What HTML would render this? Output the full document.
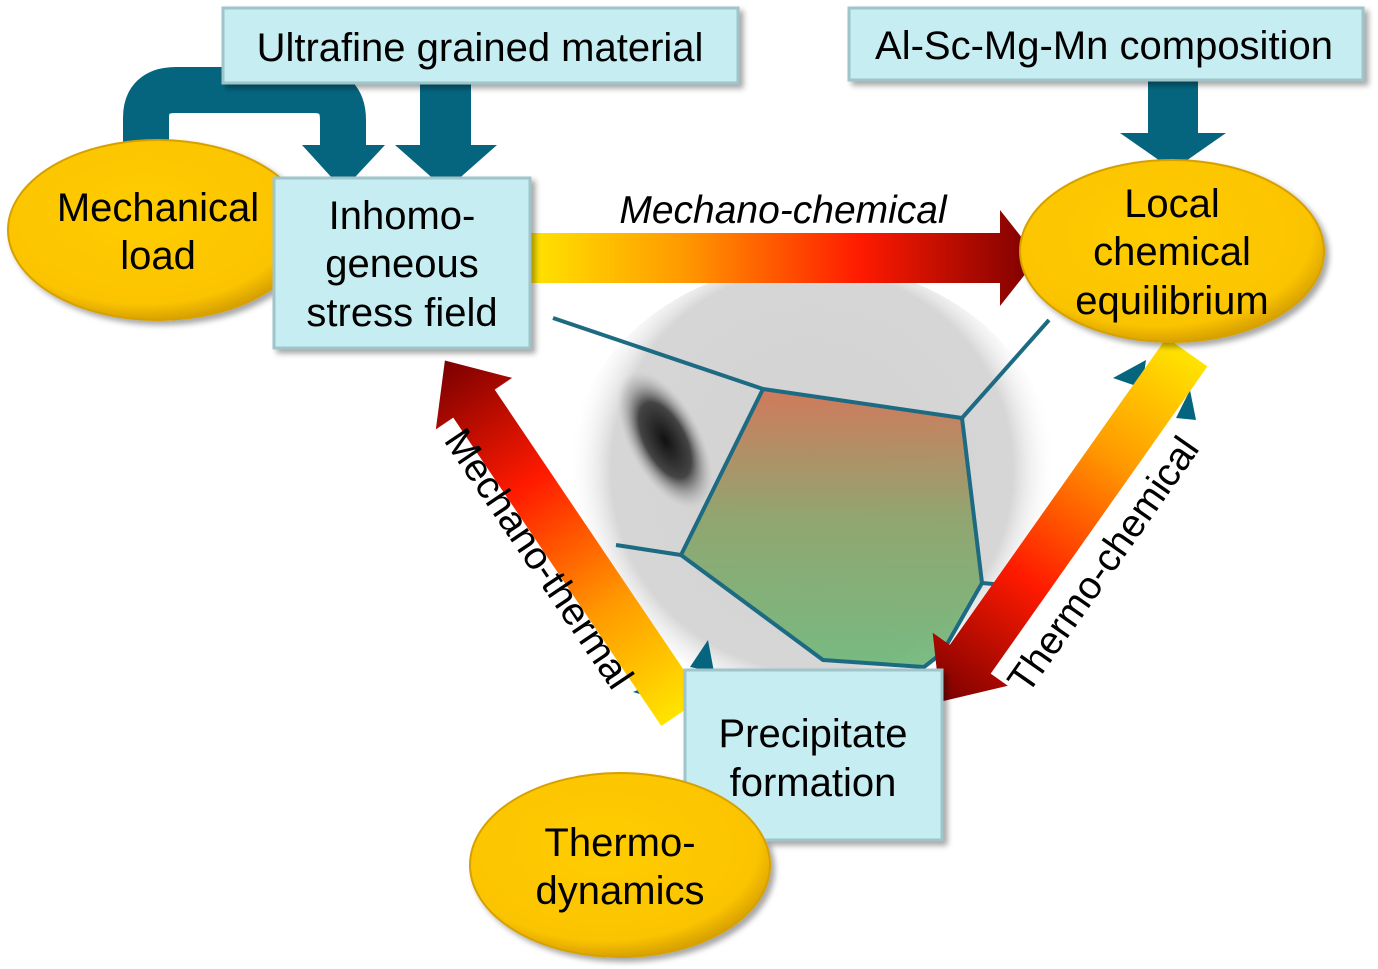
<!DOCTYPE html>
<html><head><meta charset="utf-8"><style>
html,body{margin:0;padding:0;background:#fff;}
svg{display:block;}
text{font-family:"Liberation Sans",sans-serif;fill:#000;}
</style></head><body>
<svg width="1378" height="969" viewBox="0 0 1378 969" xmlns="http://www.w3.org/2000/svg">
<defs>
<radialGradient id="tem" cx="812" cy="470" r="245" gradientUnits="userSpaceOnUse">
<stop offset="0" stop-color="#d2d2d2"/><stop offset="0.82" stop-color="#d6d6d6"/><stop offset="1" stop-color="#fff" stop-opacity="0"/>
</radialGradient>
<radialGradient id="dark" cx="0.5" cy="0.5" r="0.5">
<stop offset="0" stop-color="#111"/><stop offset="0.55" stop-color="#444"/><stop offset="1" stop-color="#aaa" stop-opacity="0"/>
</radialGradient>
<linearGradient id="grain" x1="0" y1="390" x2="0" y2="670" gradientUnits="userSpaceOnUse">
<stop offset="0" stop-color="#d0704f"/><stop offset="0.45" stop-color="#8aa065"/><stop offset="1" stop-color="#6cb878"/>
</linearGradient>
<linearGradient id="heat" x1="0" y1="0" x2="1" y2="0">
<stop offset="0" stop-color="#ffe400"/><stop offset="0.3" stop-color="#ff9a00"/><stop offset="0.65" stop-color="#ff1a00"/><stop offset="1" stop-color="#7a0000"/>
</linearGradient>
<radialGradient id="gold" cx="0.45" cy="0.4" r="0.6">
<stop offset="0" stop-color="#ffcc00"/><stop offset="0.85" stop-color="#fbc400"/><stop offset="1" stop-color="#d9a200"/>
</radialGradient>
<filter id="sh" x="-20%" y="-20%" width="140%" height="140%">
<feDropShadow dx="4" dy="4" stdDeviation="3" flood-color="#000" flood-opacity="0.35"/>
</filter>
</defs>

<!-- TEM image -->
<ellipse cx="812" cy="478" rx="245" ry="215" fill="url(#tem)"/>
<ellipse cx="665" cy="440" rx="75" ry="36" transform="rotate(62 665 440)" fill="url(#dark)"/>
<polygon points="763,389 962,418 982,583 942,653 924,667 823,660 681,555" fill="url(#grain)" opacity="0.9"/>
<g stroke="#1d6b82" stroke-width="4" fill="none" stroke-linejoin="round">
<polygon points="763,389 962,418 982,583 942,653 924,667 823,660 681,555"/>
<line x1="553" y1="318" x2="763" y2="389"/>
<line x1="962" y1="418" x2="1049" y2="320"/>
<line x1="681" y1="555" x2="616" y2="545"/>
<line x1="982" y1="583" x2="1005" y2="585"/>
</g>

<!-- teal arrows -->
<path d="M146,160 L146,118 Q146,90 176,90 L313,90 Q343,90 343,120 L343,150" fill="none" stroke="#05657f" stroke-width="46"/>
<polygon points="302,145 385,145 343,190" fill="#05657f"/>
<rect x="420" y="80" width="51" height="70" fill="#05657f"/>
<polygon points="395,145 497,145 446,190" fill="#05657f"/>
<rect x="1148" y="78" width="50" height="60" fill="#05657f"/>
<polygon points="1120,133 1226,133 1173,170" fill="#05657f"/>
<polygon points="690,667 708,640 714,672" fill="#05657f"/>
<polygon points="633,692 662,680 668,702" fill="#05657f"/>
<polygon points="1113,378 1146,360 1142,388" fill="#05657f"/>
<polygon points="1176,418 1190,390 1196,420" fill="#05657f"/>

<!-- heat arrows -->
<g transform="translate(530 258)">
<polygon points="0,-25 470,-25 470,-48 508,0 470,48 470,25 0,25" fill="url(#heat)"/>
</g>
<g transform="translate(682 712) rotate(236)">
<polygon points="0,-25 372,-25 372,-46 424,0 372,46 372,25 0,25" fill="url(#heat)"/>
</g>
<g transform="translate(1187 352) rotate(125.2)">
<polygon points="0,-25 376,-25 376,-46 428,0 376,46 376,25 0,25" fill="url(#heat)"/>
</g>

<text x="783" y="223" font-size="39" font-style="italic" text-anchor="middle">Mechano-chemical</text>
<text x="0" y="0" font-size="39" text-anchor="middle" transform="translate(528 566) rotate(56)">Mechano-thermal</text>
<text x="0" y="0" font-size="39" text-anchor="middle" transform="translate(1114 572) rotate(-55)">Thermo-chemical</text>

<g filter="url(#sh)">
<rect x="223" y="8" width="515" height="75" fill="#c6edf1" stroke="#9fc5ca" stroke-width="3"/>
<rect x="849" y="8" width="514" height="72" fill="#c6edf1" stroke="#9fc5ca" stroke-width="3"/>
</g>
<text x="480" y="61" font-size="40" text-anchor="middle">Ultrafine grained material</text>
<text x="1104" y="59" font-size="40" text-anchor="middle">Al-Sc-Mg-Mn composition</text>

<g filter="url(#sh)">
<ellipse cx="158" cy="230" rx="150" ry="90" fill="url(#gold)" stroke="#d6a000" stroke-width="2"/>
<rect x="274" y="178" width="256" height="170" fill="#c6edf1" stroke="#9fc5ca" stroke-width="3"/>
<ellipse cx="1172" cy="251" rx="152" ry="91" fill="url(#gold)" stroke="#d6a000" stroke-width="2"/>
<rect x="685" y="670" width="257" height="170" fill="#c6edf1" stroke="#9fc5ca" stroke-width="3"/>
<ellipse cx="620" cy="865" rx="150" ry="92" fill="url(#gold)" stroke="#d6a000" stroke-width="2"/>
</g>
<g font-size="40" text-anchor="middle">
<text x="158" y="221">Mechanical</text>
<text x="158" y="269">load</text>
<text x="402" y="229">Inhomo-</text>
<text x="402" y="277">geneous</text>
<text x="402" y="326">stress field</text>
<text x="1172" y="217">Local</text>
<text x="1172" y="265">chemical</text>
<text x="1172" y="314">equilibrium</text>
<text x="813" y="747">Precipitate</text>
<text x="813" y="796">formation</text>
<text x="620" y="856">Thermo-</text>
<text x="620" y="904">dynamics</text>
</g>
</svg>
</body></html>
